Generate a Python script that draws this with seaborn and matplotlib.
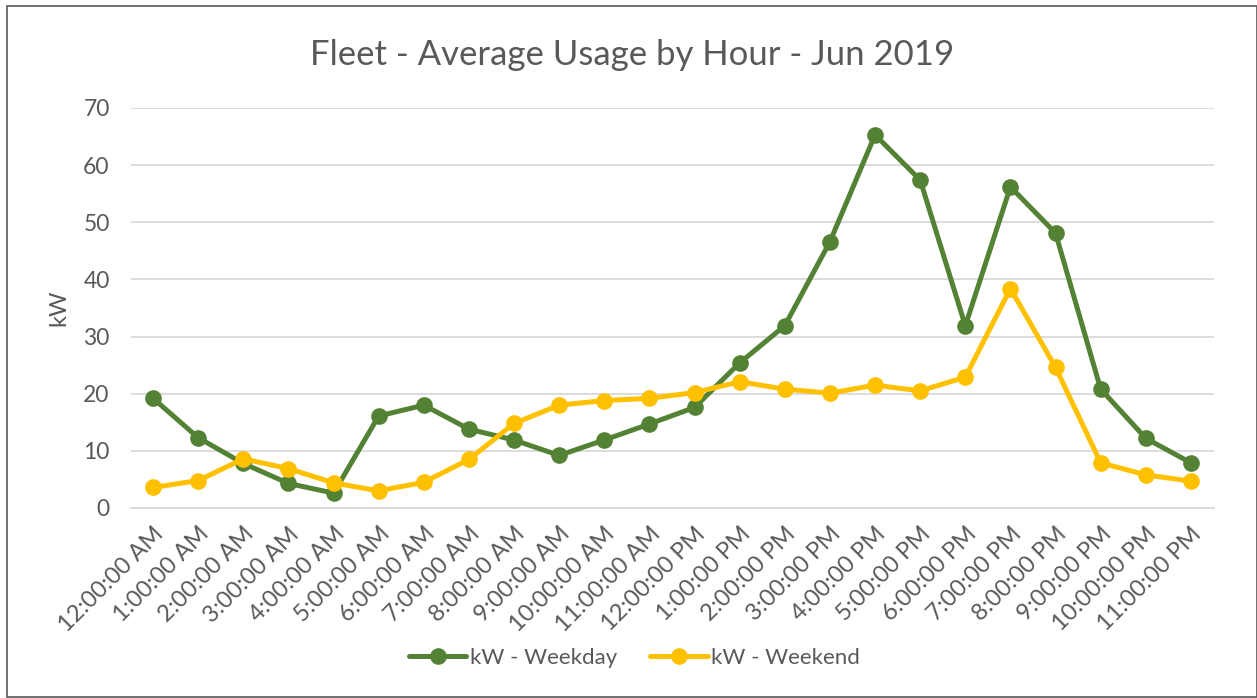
import numpy as np
import pandas as pd
import matplotlib
matplotlib.use('Agg')
import matplotlib.pyplot as plt
import seaborn as sns
from matplotlib.patches import Rectangle

# dados
hours = ['12:00:00 AM', '1:00:00 AM', '2:00:00 AM', '3:00:00 AM', '4:00:00 AM', '5:00:00 AM',
         '6:00:00 AM', '7:00:00 AM', '8:00:00 AM', '9:00:00 AM', '10:00:00 AM', '11:00:00 AM',
         '12:00:00 PM', '1:00:00 PM', '2:00:00 PM', '3:00:00 PM', '4:00:00 PM', '5:00:00 PM',
         '6:00:00 PM', '7:00:00 PM', '8:00:00 PM', '9:00:00 PM', '10:00:00 PM', '11:00:00 PM']

weekday = [19.2, 12.3, 7.8, 4.3, 2.6, 16.1, 18.0, 13.8, 11.9, 9.2, 11.9, 14.7,
           17.6, 25.4, 31.9, 46.6, 65.3, 57.4, 31.9, 56.2, 48.1, 20.8, 12.2, 7.9]

weekend = [3.6, 4.8, 8.6, 6.9, 4.4, 3.0, 4.5, 8.5, 14.8, 18.0, 18.8, 19.2,
           20.2, 22.1, 20.8, 20.1, 21.5, 20.5, 22.9, 38.4, 24.6, 7.9, 5.8, 4.7]

series_names = ['kW - Weekday', 'kW - Weekend']
y_ticks = [0, 10, 20, 30, 40, 50, 60, 70]

df = pd.DataFrame({'hour': hours * 2,
                   'kW': weekday + weekend,
                   'serie': [series_names[0]] * len(hours) + [series_names[1]] * len(hours)})

sns.set_theme(style='white')
plt.rcParams['font.family'] = ['Lato', 'DejaVu Sans']
text_color = '#595959'

fig = plt.figure(figsize=(12.57, 6.98), dpi=100)
ax = fig.add_axes([130.5 / 1257, 1 - 508 / 698, (1213.5 - 130.5) / 1257, 400 / 698])

sns.lineplot(data=df, x='hour', y='kW', hue='serie', sort=False,
             palette={series_names[0]: '#548235', series_names[1]: '#FFC000'},
             marker='o', markersize=12, markeredgewidth=0, linewidth=3.6, ax=ax)

ax.set_xlim(-0.5, len(hours) - 0.5)
ax.set_ylim(0, 70)
ax.set_yticks(y_ticks)
ax.yaxis.grid(True, color='#D9D9D9', linewidth=1.3)
ax.set_axisbelow(True)
for s in ['top', 'right', 'left']:
    ax.spines[s].set_visible(False)
ax.spines['bottom'].set_color('#D9D9D9')
ax.spines['bottom'].set_linewidth(1.3)

ax.tick_params(axis='y', length=0, pad=15, labelsize=16.5, labelcolor=text_color)
ax.tick_params(axis='x', length=0, pad=11, labelsize=17, labelcolor=text_color)
ax.set_xticks(range(len(hours)))
ax.set_xticklabels(hours, rotation=45, ha='right', rotation_mode='anchor')

ax.set_xlabel('')
ax.set_ylabel('kW', fontsize=17, color=text_color, labelpad=10)

fig.suptitle('Fleet - Average Usage by Hour - Jun 2019', x=0.503, y=0.944,
             fontsize=25, color=text_color)

leg = ax.legend(loc='center', bbox_to_anchor=(634.5 / 1257, 1 - 658 / 698), bbox_transform=fig.transFigure,
                ncol=2, frameon=False, fontsize=16, handlelength=2.6, columnspacing=1.5,
                handletextpad=0.15)
for t in leg.get_texts():
    t.set_color(text_color)

# borda do gráfico
fig.patches.append(Rectangle((7 / 1257, 0.002), 1 - 7.5 / 1257, 1 - 5.5 / 698 - 0.002,
                             transform=fig.transFigure, fill=False,
                             edgecolor='#595959', linewidth=1.2))

fig.savefig('out.png', dpi=100)
